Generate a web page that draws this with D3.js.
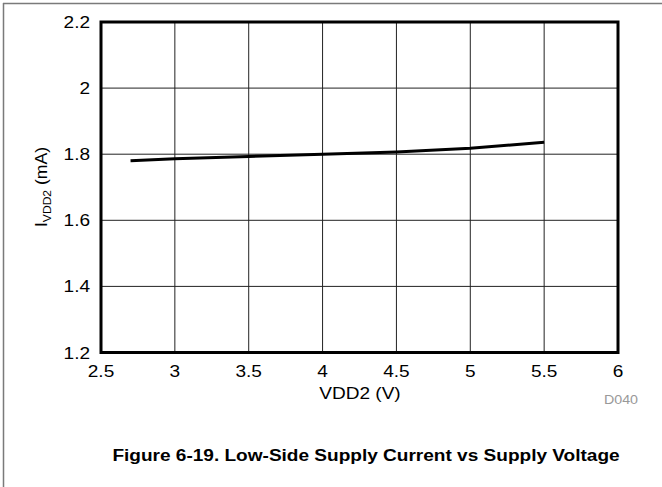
<!DOCTYPE html>
<html>
<head>
<meta charset="utf-8">
<script src="https://cdn.jsdelivr.net/npm/d3@7"></script>
<style>
  body { margin: 0; background: #fff; }
  text { font-family: "Liberation Sans", Arial, sans-serif; }
</style>
</head>
<body>
<script>
var w = 662;
var h = 487;

// data
var vdd2 = [2.7, 3, 3.5, 4, 4.5, 5, 5.5];
var current = [1.780, 1.786, 1.793, 1.800, 1.807, 1.818, 1.836];

var xTicks = [2.5, 3, 3.5, 4, 4.5, 5, 5.5, 6];
var yTicks = [1.2, 1.4, 1.6, 1.8, 2, 2.2];

var plotL = 101, plotR = 618, plotT = 22, plotB = 352.5;
var stretch = 1.19; // reference text is a bit wide

var xScale = d3.scaleLinear().domain([2.5, 6]).range([plotL, plotR]);
var yScale = d3.scaleLinear().domain([1.2, 2.2]).range([plotB, plotT]);

var svg = d3.select("body").append("svg")
            .attr("width", w)
            .attr("height", h);

function place(x, y) {
  return "translate(" + x + "," + y + ") scale(" + stretch + ",1)";
}

// outer frame
svg.append("line").attr("x1", 3).attr("x2", w).attr("y1", 3.5).attr("y2", 3.5)
   .attr("stroke", "#7a7a7a").attr("stroke-width", 1.5);
svg.append("line").attr("x1", 3.5).attr("x2", 3.5).attr("y1", 3).attr("y2", h)
   .attr("stroke", "#7a7a7a").attr("stroke-width", 1.5);

// grid
svg.append("g").selectAll("line")
   .data(xTicks.slice(1, -1))
   .enter().append("line")
   .attr("x1", function(d) { return xScale(d); })
   .attr("x2", function(d) { return xScale(d); })
   .attr("y1", plotT).attr("y2", plotB)
   .attr("stroke", "#222").attr("stroke-width", 1);

svg.append("g").selectAll("line")
   .data(yTicks.slice(1, -1))
   .enter().append("line")
   .attr("x1", plotL).attr("x2", plotR)
   .attr("y1", function(d) { return yScale(d); })
   .attr("y2", function(d) { return yScale(d); })
   .attr("stroke", "#222").attr("stroke-width", 1);

// curve
var line = d3.line()
             .x(function(d, i) { return xScale(vdd2[i]); })
             .y(function(d) { return yScale(d); });

svg.append("path")
   .datum(current)
   .attr("d", line)
   .attr("fill", "none")
   .attr("stroke", "#000")
   .attr("stroke-width", 3);

// plot border
svg.append("rect")
   .attr("x", plotL).attr("y", plotT)
   .attr("width", plotR - plotL).attr("height", plotB - plotT)
   .attr("fill", "none").attr("stroke", "#000").attr("stroke-width", 3);

// tick labels
svg.append("g").selectAll("text")
   .data(xTicks)
   .enter().append("text")
   .attr("transform", function(d) { return place(xScale(d), 377); })
   .attr("text-anchor", "middle")
   .attr("font-size", 16)
   .text(function(d) { return d; });

svg.append("g").selectAll("text")
   .data(yTicks)
   .enter().append("text")
   .attr("transform", function(d) { return place(90, yScale(d) + 6); })
   .attr("text-anchor", "end")
   .attr("font-size", 16)
   .text(function(d) { return d; });

// axis titles
svg.append("text")
   .attr("transform", place(360, 399))
   .attr("text-anchor", "middle")
   .attr("font-size", 16)
   .text("VDD2 (V)");

var yl = svg.append("text")
   .attr("transform", "translate(47,187) rotate(-90) scale(1.1,1)")
   .attr("text-anchor", "middle")
   .attr("font-size", 16);
yl.append("tspan").text("I");
yl.append("tspan").attr("font-size", 11).attr("dy", 4).text("VDD2");
yl.append("tspan").attr("dy", -4).text(" (mA)");

svg.append("text")
   .attr("transform", place(638, 404))
   .attr("text-anchor", "end")
   .attr("font-size", 12)
   .attr("fill", "#999")
   .text("D040");

// caption
svg.append("text")
   .attr("transform", place(366, 461))
   .attr("text-anchor", "middle")
   .attr("font-size", 16)
   .attr("font-weight", "bold")
   .text("Figure 6-19. Low-Side Supply Current vs Supply Voltage");
</script>
</body>
</html>
